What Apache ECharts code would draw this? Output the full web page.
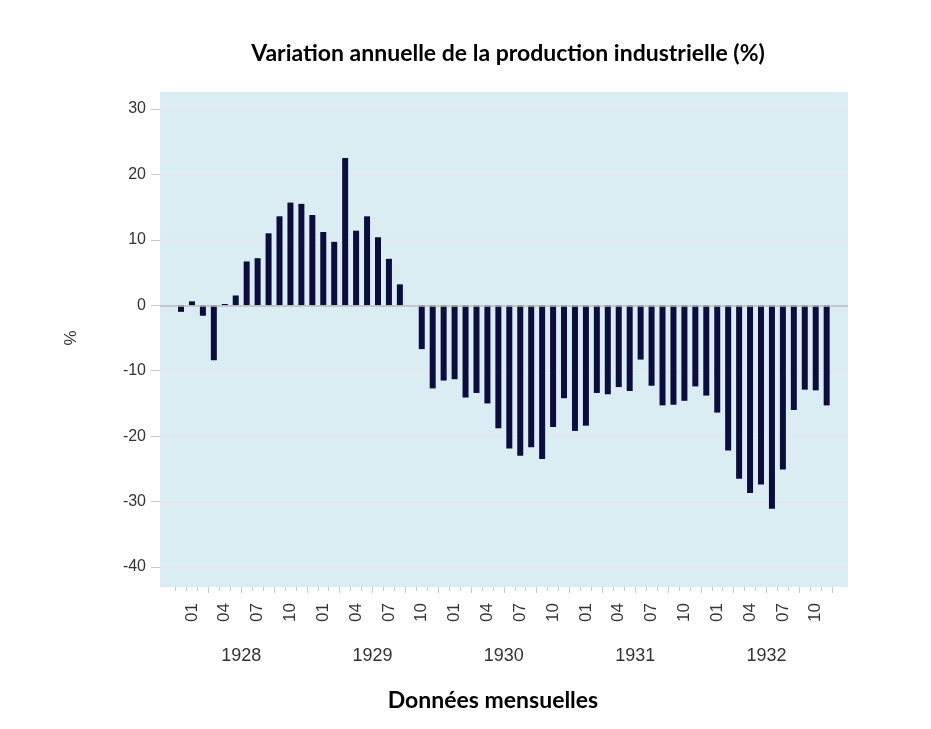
<!DOCTYPE html>
<html><head><meta charset="utf-8">
<script src="https://cdn.jsdelivr.net/npm/echarts@6/dist/echarts.min.js"></script>
<style>html,body{margin:0;padding:0;background:#fff}#c{width:931px;height:729px}</style>
</head><body><div id="c"></div>
<script>
const categories = [
  '1927-12',
  '1928-01','1928-02','1928-03','1928-04','1928-05','1928-06','1928-07','1928-08','1928-09','1928-10','1928-11','1928-12',
  '1929-01','1929-02','1929-03','1929-04','1929-05','1929-06','1929-07','1929-08','1929-09','1929-10','1929-11','1929-12',
  '1930-01','1930-02','1930-03','1930-04','1930-05','1930-06','1930-07','1930-08','1930-09','1930-10','1930-11','1930-12',
  '1931-01','1931-02','1931-03','1931-04','1931-05','1931-06','1931-07','1931-08','1931-09','1931-10','1931-11','1931-12',
  '1932-01','1932-02','1932-03','1932-04','1932-05','1932-06','1932-07','1932-08','1932-09','1932-10','1932-11'
];
const values = [
  -1.0,
  0.6, -1.6, -8.4, 0.2, 1.5, 6.7, 7.2, 11.0, 13.6, 15.7, 15.5, 13.8,
  11.2, 9.7, 22.5, 11.4, 13.6, 10.4, 7.1, 3.2, 0.0, -6.7, -12.7, -11.5,
  -11.3, -14.1, -13.4, -15.0, -18.8, -21.9, -23.0, -21.7, -23.5, -18.6, -14.2, -19.2,
  -18.4, -13.4, -13.6, -12.5, -13.1, -8.3, -12.3, -15.3, -15.2, -14.6, -12.4, -13.8,
  -16.4, -22.2, -26.5, -28.7, -27.4, -31.1, -25.1, -16.0, -12.9, -13.0, -15.3
];
const monthTickLabels = ['01','04','07','10'];
const years = ['1928','1929','1930','1931','1932'];
const yMin = -40, yMax = 30, yStep = 10;
const titleText = 'Variation annuelle de la production industrielle (%)';
const xTitle = 'Données mensuelles';
const yTitle = '%';

const chart = echarts.init(document.getElementById('c'), null, {renderer: 'canvas'});

const labelIdx = categories.map((c, i) => monthTickLabels.includes(c.slice(5)) ? i : -1).filter(i => i >= 0);
const tickVals = categories.map((c, i) => i - 0.5).concat([categories.length - 0.5]);
const longTickVals = categories.map((c, i) => ['02','05','08','11'].includes(c.slice(5)) ? i + 0.5 : null).filter(v => v !== null);
const yearPos = years.map(y => categories.indexOf(y + '-01') + 4.5);

const XMIN = -1.92, XMAX = 60.95;
const FONT = '"Liberation Sans", Arial, sans-serif';
const baseX = {
  type: 'value', gridIndex: 1, min: XMIN, max: XMAX, position: 'bottom', offset: 20,
  axisLine: {show: false, onZero: false}, splitLine: {show: false}
};

chart.setOption({
  animation: false,
  backgroundColor: '#ffffff',
  title: [
    {text: titleText, left: 503, top: 37, textAlign: 'center',
     textStyle: {fontFamily: 'Lato', fontWeight: 'bold', fontSize: 23, color: '#000'}},
    {text: xTitle, left: 488, top: 684, textAlign: 'center',
     textStyle: {fontFamily: 'Lato', fontWeight: 'bold', fontSize: 23, color: '#000'}}
  ],
  grid: [
    {left: 160, right: 83, top: 92, bottom: 142, show: true, backgroundColor: '#daedf3', borderWidth: 0},
    {left: 160, right: 83, top: 109, bottom: 162, show: false}
  ],
  xAxis: [
    {type: 'value', gridIndex: 0, show: false, min: 0, max: 1},
    Object.assign({}, baseX, {
      axisTick: {show: true, customValues: tickVals, length: 4, lineStyle: {color: '#c8c8c8', width: 1}},
      axisLabel: {show: true, customValues: labelIdx, rotate: 90, margin: 16, fontFamily: FONT, fontSize: 17, color: '#333',
        formatter: v => categories[Math.round(v)].slice(5)}
    }),
    Object.assign({}, baseX, {
      axisTick: {show: true, customValues: longTickVals, length: 6, lineStyle: {color: '#c8c8c8', width: 1}},
      axisLabel: {show: false}
    }),
    Object.assign({}, baseX, {
      axisTick: {show: false},
      axisLabel: {show: true, customValues: yearPos, margin: 60, fontFamily: FONT, fontSize: 18, color: '#333',
        formatter: v => years[yearPos.findIndex(p => Math.abs(p - v) < 0.01)]}
    })
  ],
  yAxis: [
    {type: 'value', gridIndex: 0, show: false, min: 0, max: 1},
    {type: 'value', gridIndex: 1, min: yMin, max: yMax, interval: yStep,
     name: yTitle, nameLocation: 'middle', nameGap: 80, nameRotate: 90,
     nameTextStyle: {fontFamily: FONT, fontSize: 17, color: '#333'},
     axisLine: {show: false, onZero: false},
     axisTick: {show: true, length: 9, lineStyle: {color: '#c8c8c8'}},
     axisLabel: {fontFamily: FONT, fontSize: 16, color: '#333', margin: 14},
     splitLine: {show: true, lineStyle: {color: '#e4e7e9', width: 2}}}
  ],
  series: [{
    type: 'bar', xAxisIndex: 1, yAxisIndex: 1,
    data: values.map((v, i) => [i, v]),
    barWidth: 6,
    itemStyle: {color: '#0c0c3f'},
    markLine: {
      silent: true, symbol: ['none', 'none'], label: {show: false},
      lineStyle: {color: '#bdbdbd', type: 'solid', width: 1.5},
      data: [{yAxis: 0}]
    }
  }]
});
</script></body></html>
